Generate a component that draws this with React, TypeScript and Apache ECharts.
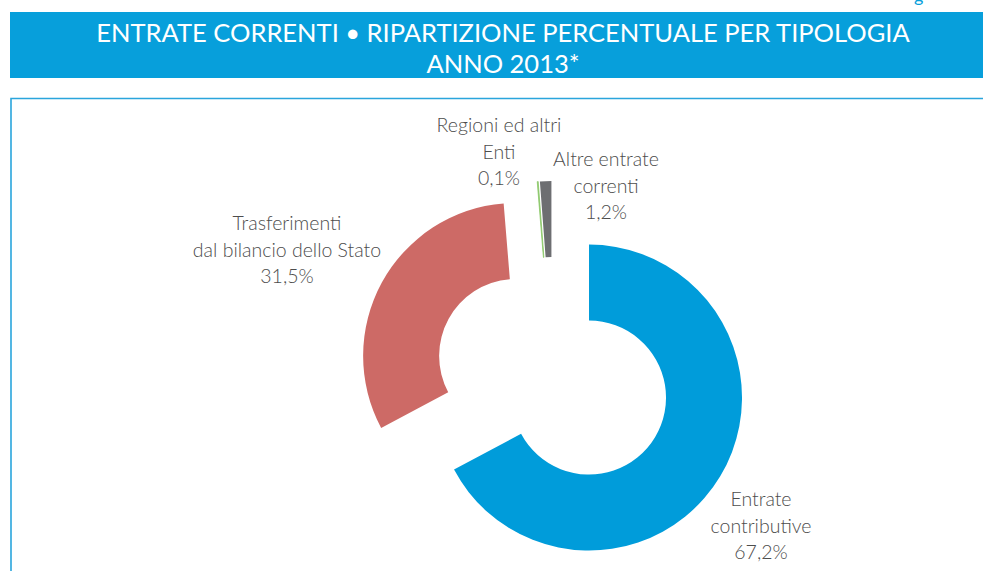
import React, { useEffect, useRef } from "react";
import * as echarts from "echarts";

const categories = [
  "Entrate\ncontributive",
  "Trasferimenti\ndal bilancio dello Stato",
  "Regioni ed altri\nEnti",
  "Altre entrate\ncorrenti",
];
const values = [67.2, 31.5, 0.1, 1.2];
const colors = ["#009CDA", "#CD6A66", "#8CC86A", "#6D6E71"];
const titleLines = [
  "ENTRATE CORRENTI • RIPARTIZIONE PERCENTUALE PER TIPOLOGIA",
  "ANNO 2013*",
];

// label anchor positions (centre of each label block)
const labelPos: [number, number][] = [
  [761, 525],
  [287, 249],
  [499, 151],
  [606, 185],
];

const FONT = "Lato, 'Open Sans', sans-serif";

export default function App() {
  const ref = useRef<HTMLDivElement>(null);
  useEffect(() => {
    if (!ref.current) return;
    const chart = echarts.init(ref.current, null, { renderer: "svg" });
    const labelTexts = categories.map((name, i) => ({
      type: "text",
      x: labelPos[i][0],
      y: labelPos[i][1],
      silent: true,
      style: {
        text: `${name}\n${String(values[i]).replace(".", ",")}%`,
        fill: "#4D4D4D",
        fontFamily: FONT,
        fontWeight: 300,
        fontSize: 19.5,
        lineHeight: 26.5,
        align: "center",
        verticalAlign: "middle",
      },
    }));
    chart.setOption({
      animation: false,
      backgroundColor: "#ffffff",
      graphic: [
        {
          type: "rect",
          shape: { x: 10, y: 12, width: 990, height: 66 },
          style: { fill: "#079FDB" },
          silent: true,
        },
        {
          type: "text",
          x: 503,
          y: 47,
          silent: true,
          style: {
            text: titleLines.join("\n"),
            fill: "#ffffff",
            fontFamily: FONT,
            fontWeight: 400,
            fontSize: 25.5,
            lineHeight: 31,
            align: "center",
            verticalAlign: "middle",
          },
        },
        {
          type: "polyline",
          shape: { points: [[11, 580], [11, 98.5], [990, 98.5]] },
          style: { stroke: "#2AA5DC", lineWidth: 1.6, fill: null },
          silent: true,
        },
        {
          type: "text",
          x: 914,
          y: -14,
          silent: true,
          style: { text: "g", fill: "#079FDB", fontFamily: FONT, fontSize: 18 },
        },
        ...labelTexts,
      ],
      series: [
        {
          type: "pie",
          center: [553, 376],
          radius: [77, 153],
          startAngle: 90,
          clockwise: true,
          selectedMode: "multiple",
          selectedOffset: 42,
          avoidLabelOverlap: false,
          emphasis: { disabled: true },
          label: { show: false },
          labelLine: { show: false },
          data: categories.map((name, i) => ({
            name,
            value: values[i],
            selected: true,
            itemStyle: {
              color: colors[i],
              borderColor: colors[i],
              borderWidth: values[i] < 1 ? 0.8 : 0,
            },
          })),
        },
      ],
    });
    return () => chart.dispose();
  }, []);
  return (
    <div
      ref={ref}
      style={{ position: "fixed", left: 0, top: 0, width: 983, height: 571 }}
    />
  );
}
